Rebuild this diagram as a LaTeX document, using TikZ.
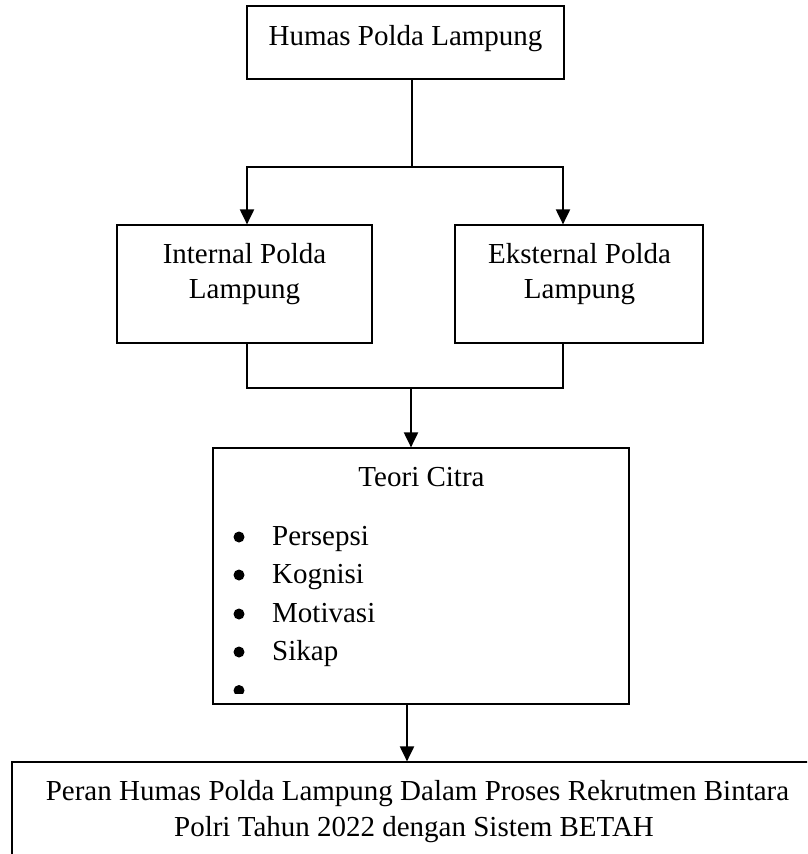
\documentclass[tikz,border=0pt]{standalone}
\usepackage{fontspec}
\setmainfont{Liberation Serif}
\usetikzlibrary{arrows.meta}
\begin{document}
\begin{tikzpicture}[x=1pt,y=-1pt,
  box/.style={draw=black, line width=1.2pt, rectangle, inner sep=0pt},
  conn/.style={line width=2pt, line join=miter},
  tip/.style={-{Triangle[width=14pt,length=15pt]}},
  twotip/.style={{Triangle[width=14pt,length=15pt]}-{Triangle[width=14pt,length=15pt]}},
  lbl/.style={anchor=base, inner sep=0pt, font=\fontsize{29}{35}\selectfont},
  item/.style={lbl, anchor=base west}]
\useasboundingbox (0,0) rectangle (807,854);
% boxes
\node[box, minimum width=317pt, minimum height=73pt] (top) at (405.5,42.5) {};
\node[box, minimum width=255pt, minimum height=118pt] (int) at (244.5,284) {};
\node[box, minimum width=248pt, minimum height=118pt] (eks) at (579,284) {};
\node[box, minimum width=416pt, minimum height=256pt] (teori) at (421,576) {};
\begin{scope}
\clip (0,0) rectangle (807,854);
\node[box, minimum width=808pt, minimum height=120pt] (goal) at (416,822) {};
\end{scope}
% connectors
\coordinate (j1) at (412,167);
\coordinate (jl) at (247,167);
\coordinate (jr) at (563,167);
\draw[conn] (j1 |- top.south) -- (j1);
\draw[conn, twotip] (jl |- int.north) -- (jl) -- (jr) -- (jr |- eks.north);
\coordinate (kl) at (247,388);
\coordinate (kr) at (563,388);
\coordinate (km) at (411,388);
\draw[conn] (kl |- int.south) -- (kl) -- (kr) -- (kr |- eks.south);
\draw[conn, tip] (km) -- (km |- teori.north);
\coordinate (m2) at (407,704);
\draw[conn, tip] (m2 |- teori.south) -- (m2 |- goal.north);
% texts
\node[lbl] (tTop) at (405.5,45) {Humas Polda Lampung};
\node[lbl] (tInt1) at (244.5,263) {Internal Polda};
\node[lbl] (tInt2) at (244.5,298) {Lampung};
\node[lbl] (tEks1) at (579.5,263) {Eksternal Polda};
\node[lbl] (tEks2) at (579.5,298) {Lampung};
\node[lbl] (tTeori) at (421.5,486) {Teori Citra};
\node[item] (i1) at (272,545) {Persepsi};
\node[item] (i2) at (272,583) {Kognisi};
\node[item] (i3) at (272,622) {Motivasi};
\node[item] (i4) at (272,660) {Sikap};
\fill (239,537) circle (5.5pt);
\fill (239,575) circle (5.5pt);
\fill (239,614) circle (5.5pt);
\fill (239,652) circle (5.5pt);
\begin{scope}
\clip (200,670) rectangle (640,693);
\fill (239,690.5) circle (5.5pt);
\end{scope}
\node[lbl] (g1) at (417.5,800) {Peran Humas Polda Lampung Dalam Proses Rekrutmen Bintara};
\node[lbl] (g2) at (414,836) {Polri Tahun 2022 dengan Sistem BETAH};
\end{tikzpicture}
\end{document}
